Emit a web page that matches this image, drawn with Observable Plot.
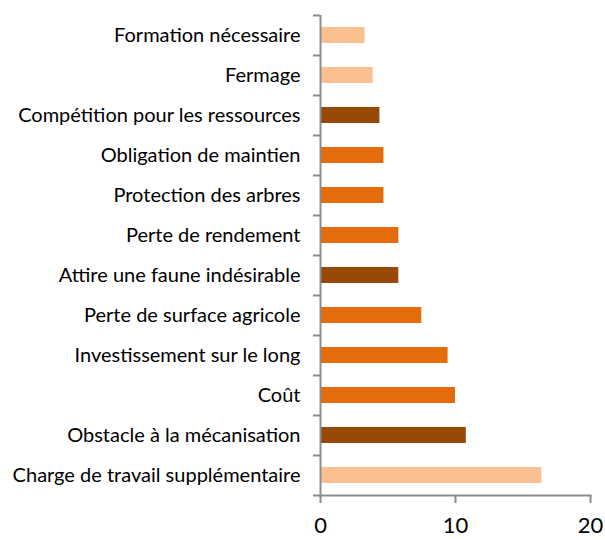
<!DOCTYPE html>
<html>
<head>
<meta charset="utf-8">
<script src="https://cdn.jsdelivr.net/npm/d3@7"></script>
<script src="https://cdn.jsdelivr.net/npm/@observablehq/plot@0.6"></script>
<style>
  html, body { margin: 0; padding: 0; background: #fff; }
  #chart svg { display: block; }
</style>
</head>
<body>
<div id="chart"></div>
<script>
const categories = [
  "Formation nécessaire",
  "Fermage",
  "Compétition pour les ressources",
  "Obligation de maintien",
  "Protection des arbres",
  "Perte de rendement",
  "Attire une faune indésirable",
  "Perte de surface agricole",
  "Investissement sur le long",
  "Coût",
  "Obstacle à la mécanisation",
  "Charge de travail supplémentaire"
];
const values = [3.3, 3.9, 4.4, 4.7, 4.7, 5.8, 5.8, 7.5, 9.45, 10, 10.8, 16.4];
const groups = ["clair", "clair", "foncé", "moyen", "moyen", "moyen", "foncé", "moyen", "moyen", "moyen", "foncé", "clair"];
const xTicks = [0, 10, 20];

const data = categories.map((c, i) => ({category: c, value: values[i], group: groups[i]}));
const axisColor = "#8c8c8c";

const chart = Plot.plot({
  width: 605,
  height: 540,
  marginLeft: 320,
  marginRight: 15,
  marginTop: 15,
  marginBottom: 45,
  style: {fontFamily: "Lato, sans-serif", background: "#fff", color: "#000"},
  x: {domain: [0, 20], ticks: xTicks},
  y: {domain: categories, paddingInner: 0.6, paddingOuter: 0.3, align: 0.5},
  color: {domain: ["clair", "moyen", "foncé"], range: ["#fac090", "#e46c0a", "#984807"]},
  marks: [
    Plot.barX(data, {y: "category", x: "value", fill: "group"}),
    Plot.ruleY(categories, {y: d => d, dy: -20, x1: -0.52, x2: 0, stroke: axisColor, strokeWidth: 2}),
    Plot.ruleY(categories.slice(-1), {y: d => d, dy: 20, x1: -0.52, x2: 0, stroke: axisColor, strokeWidth: 2}),
    Plot.ruleX([0], {stroke: axisColor, strokeWidth: 2}),
    Plot.frame({anchor: "bottom", stroke: axisColor, strokeWidth: 2}),
    Plot.axisX({ticks: xTicks, tickSize: 8, tickPadding: 14, stroke: axisColor, strokeWidth: 2, fontSize: 22, fill: "#000", label: null, tickFormat: d => String(d)}),
    Plot.axisY({tickSize: 0, tickPadding: 20, fontSize: 20, fill: "#000", label: null})
  ]
});
document.getElementById("chart").appendChild(chart);
</script>
</body>
</html>
